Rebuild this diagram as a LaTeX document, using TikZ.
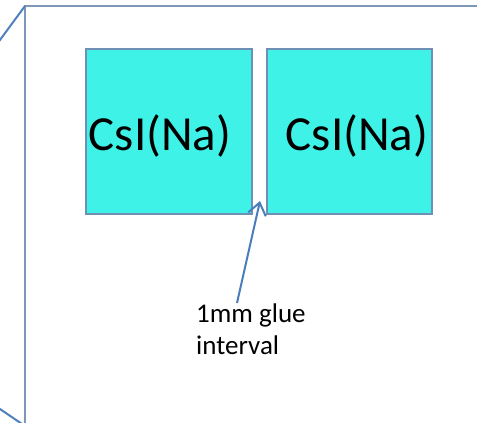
\documentclass[tikz,border=0pt]{standalone}
\usepackage{fontspec}
\setmainfont{Carlito}
\usetikzlibrary{arrows.meta}
\definecolor{frame}{HTML}{7E97B8}
\definecolor{diag}{HTML}{4F81BD}
\definecolor{cyanfill}{HTML}{3EF2E8}
\definecolor{crys}{HTML}{6F8FB5}
\definecolor{arrowc}{HTML}{4A7EBB}
\tikzset{
  crystal/.style={draw=crys, line width=1.3pt, fill=cyanfill},
  framestyle/.style={draw=frame, line width=2pt},
  diagstyle/.style={draw=diag, line width=2pt},
  crystext/.style={font=\fontsize{49}{58}\selectfont, inner sep=0pt},
}
\begin{document}
\begin{tikzpicture}[x=1pt,y=-1pt]
\useasboundingbox (0,0) rectangle (477,423);
% frame
\coordinate (ftl) at (25,6);
\coordinate (ftr) at (480,6);
\coordinate (fbl) at (25,426);
\draw[framestyle] (ftr) -- (ftl) -- (fbl);
\coordinate (dtop) at (-3,44);
\coordinate (dbot) at (-3,407);
\draw[diagstyle] (ftl) -- (dtop);
\draw[diagstyle] (fbl) -- (dbot);
% crystals
\path[crystal] (86,49) rectangle (252,214);
\path[crystal] (267,49) rectangle (432,214);
\node[crystext, anchor=base] (c1) at (160,150) {CsI(Na)};
\node[crystext, anchor=base] (c2) at (357,150) {CsI(Na)};
% label
\node[font=\fontsize{27}{32}\selectfont, align=left, anchor=north west, inner sep=0pt] (lab) at (196,304) {1mm glue\\interval};
\coordinate (tail) at (237,303);
\coordinate (tip) at (260,201);
\draw[draw=arrowc, line width=2pt, -{Straight Barb[length=12pt,width=18pt,line width=2pt]}] (tail) -- (tip);
\end{tikzpicture}
\end{document}
